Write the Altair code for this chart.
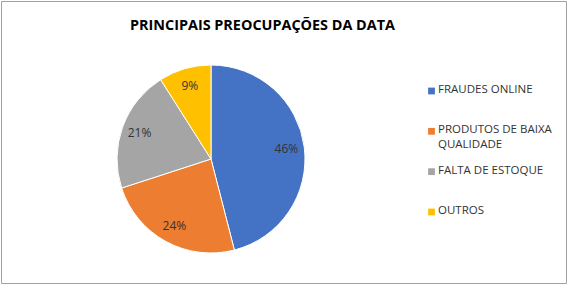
import altair as alt
import pandas as pd

categories = ["FRAUDES ONLINE", "PRODUTOS DE BAIXA QUALIDADE", "FALTA DE ESTOQUE", "OUTROS"]
legend_text = [["FRAUDES ONLINE"], ["PRODUTOS DE BAIXA", "QUALIDADE"], ["FALTA DE ESTOQUE"], ["OUTROS"]]
values = [46, 24, 21, 9]
colors = ["#4472C4", "#ED7D31", "#A5A5A5", "#FFC000"]
order = [1, 2, 3, 4]

df = pd.DataFrame({"cat": categories, "val": values, "ord": order,
                   "lbl": [f"{v}%" for v in values],
                   "leg": legend_text})

CX, CY, R = 210, 158, 94

color = alt.Color("cat:N", scale=alt.Scale(domain=categories, range=colors),
                  sort=categories, legend=None)

base = alt.Chart(df).encode(
    theta=alt.Theta("val:Q", stack=True),
    order=alt.Order("ord:Q"),
)

pie = base.mark_arc(outerRadius=R, stroke="white", strokeWidth=1).encode(
    x=alt.value(CX), y=alt.value(CY), color=color,
)

labels = base.mark_text(radius=76, font="Open Sans", fontSize=12, color="#333333").encode(
    x=alt.value(CX), y=alt.value(CY),
    text="lbl:N",
)

ly = alt.Y("cat:N", sort=categories, scale=alt.Scale(range=[90, 211], padding=0), axis=None)

leg_sym = alt.Chart(df).mark_point(shape="square", filled=True, size=46, opacity=1).encode(
    x=alt.value(430.5), y=ly, color=color,
)
leg_txt = alt.Chart(df).mark_text(align="left", baseline="top", dy=-7, font="Open Sans",
                                  fontSize=11.5, color="#333333", lineHeight=15).encode(
    x=alt.value(437), y=ly, text="leg",
)

chart = alt.layer(pie, labels, leg_sym, leg_txt).properties(
    width=565, height=282,
    title=alt.TitleParams(
        "PRINCIPAIS PREOCUPAÇÕES DA DATA",
        font="Open Sans", fontSize=14.4, fontWeight="bold", color="#000000",
        anchor="start", dx=129, dy=-8, offset=-40,
    ),
    padding={"left": 1, "top": 1, "right": 1, "bottom": 1},
    autosize=alt.AutoSizeParams(type="none"),
).configure_view(stroke="#A0A0A0", strokeWidth=1)

chart.save("out.html", embed_options={"renderer": "svg", "actions": False})
